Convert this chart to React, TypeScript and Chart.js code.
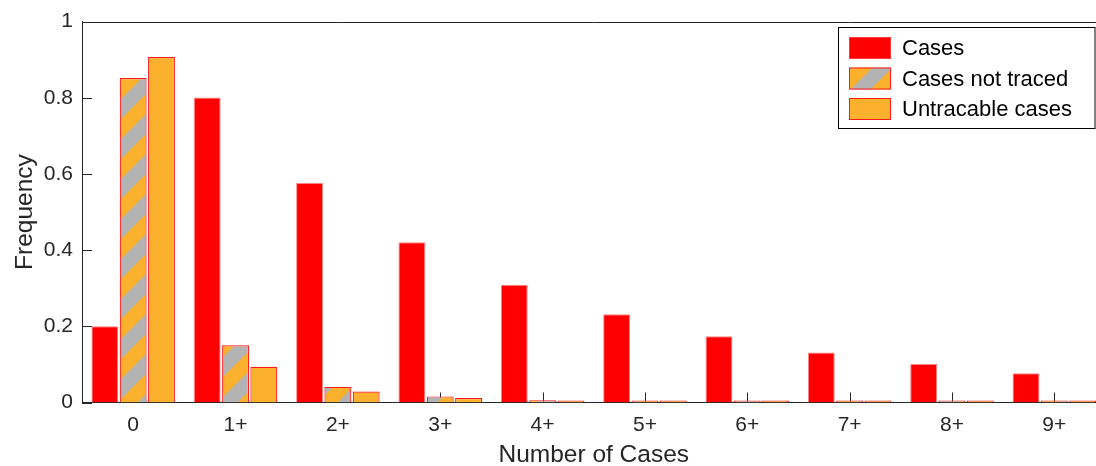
import React, { useEffect, useRef } from 'react';
import { Chart, registerables } from 'chart.js';

Chart.register(...registerables);

const categories = ['0', '1+', '2+', '3+', '4+', '5+', '6+', '7+', '8+', '9+'];
const casesValues = [0.2, 0.801, 0.576, 0.421, 0.309, 0.232, 0.174, 0.131, 0.101, 0.077];
const notTracedValues = [0.852, 0.15, 0.041, 0.016, 0.006, 0.003, 0.002, 0.001, 0.0006, 0.0004];
const untracableValues = [0.907, 0.094, 0.029, 0.012, 0.004, 0.002, 0.001, 0.0005, 0.0003, 0.0002];
const seriesNames = ['Cases', 'Cases not traced', 'Untracable cases'];
const yTickValues = [0, 0.2, 0.4, 0.6, 0.8, 1];
const yTickLabels = ['0', '0.2', '0.4', '0.6', '0.8', '1'];
const xTitle = 'Number of Cases';
const yTitle = 'Frequency';

const FONT = '"Liberation Sans", Arial, Helvetica, sans-serif';
const INK = '#262626';
const RED = '#ff0000';
const ORANGE = '#fbb12e';
const GRAY = '#b3b3b3';
const EDGE = '#ff1a1a';

function makeHatch(): CanvasPattern | string {
  const c = document.createElement('canvas');
  c.width = 40;
  c.height = 40;
  const g = c.getContext('2d');
  if (!g) return GRAY;
  g.fillStyle = GRAY;
  g.fillRect(0, 0, 40, 40);
  g.fillStyle = ORANGE;
  g.beginPath();
  g.moveTo(0, 0);
  g.lineTo(20, 0);
  g.lineTo(0, 20);
  g.closePath();
  g.fill();
  g.beginPath();
  g.moveTo(40, 0);
  g.lineTo(40, 20);
  g.lineTo(20, 40);
  g.lineTo(0, 40);
  g.closePath();
  g.fill();
  return g.createPattern(c, 'repeat') || GRAY;
}

export default function App() {
  const ref = useRef<HTMLCanvasElement | null>(null);

  useEffect(() => {
    if (!ref.current) return;
    const hatch = makeHatch();
    const fills: any[] = [RED, hatch, ORANGE];

    const framePlugin = {
      id: 'frame',
      beforeDatasetsDraw(chart: any) {
        const { ctx, chartArea: a, scales } = chart;
        ctx.save();
        ctx.strokeStyle = INK;
        ctx.lineWidth = 1;
        ctx.beginPath();
        yTickValues.forEach((v) => {
          const y = Math.round(scales.y.getPixelForValue(v)) + 0.5;
          ctx.moveTo(a.left, y);
          ctx.lineTo(a.left + 10, y);
        });
        categories.forEach((_, i) => {
          const x = Math.round(scales.x.getPixelForValue(i)) + 0.5;
          ctx.moveTo(x, a.bottom);
          ctx.lineTo(x, a.bottom - 10);
        });
        const ty = Math.round(a.top) + 0.5;
        ctx.moveTo(a.left, ty);
        ctx.lineTo(a.right, ty);
        ctx.stroke();
        ctx.restore();
      },
      afterDraw(chart: any) {
        const { ctx, chartArea: a } = chart;
        ctx.save();
        // axis titles
        ctx.fillStyle = INK;
        ctx.font = `24.5px ${FONT}`;
        ctx.textAlign = 'center';
        ctx.textBaseline = 'middle';
        ctx.fillText(xTitle, (a.left + a.right) / 2, 455);
        ctx.save();
        ctx.translate(25, (a.top + a.bottom) / 2);
        ctx.rotate(-Math.PI / 2);
        ctx.fillText(yTitle, 0, 0);
        ctx.restore();

        // legend
        ctx.fillStyle = '#ffffff';
        ctx.fillRect(838.5, 27.5, 256.5, 101);
        ctx.strokeStyle = '#000000';
        ctx.lineWidth = 1;
        ctx.strokeRect(838.5, 27.5, 256.5, 101);
        const rows = [48, 78.5, 109];
        chart.data.datasets.forEach((ds: any, i: number) => {
          const cy = rows[i];
          ctx.fillStyle = fills[i];
          ctx.fillRect(849, cy - 11, 42, 22);
          ctx.strokeStyle = i === 0 ? 'rgba(255,80,80,0.7)' : EDGE;
          ctx.strokeRect(849.5, cy - 10.5, 41, 21);
          ctx.fillStyle = '#000000';
          ctx.font = `22px ${FONT}`;
          ctx.textAlign = 'left';
          ctx.textBaseline = 'middle';
          ctx.fillText(ds.label, 902, cy + 1);
        });
        ctx.restore();
      },
    };

    const chart = new Chart(ref.current, {
      type: 'bar',
      data: {
        labels: categories,
        datasets: [
          {
            label: seriesNames[0],
            data: casesValues,
            backgroundColor: RED,
            borderColor: 'rgba(255,80,80,0.7)',
            borderWidth: 1,
            minBarLength: 2,
          },
          {
            label: seriesNames[1],
            data: notTracedValues,
            backgroundColor: hatch as any,
            borderColor: EDGE,
            borderWidth: 1.2,
            minBarLength: 2,
          },
          {
            label: seriesNames[2],
            data: untracableValues,
            backgroundColor: ORANGE,
            borderColor: EDGE,
            borderWidth: 1.2,
            minBarLength: 2,
          },
        ],
      },
      options: {
        animation: false,
        responsive: false,
        devicePixelRatio: 1,
        layout: { padding: { top: 21, right: 4.5, left: 0, bottom: 0 } },
        datasets: { bar: { categoryPercentage: 0.83, barPercentage: 0.95 } },
        plugins: { legend: { display: false }, tooltip: { enabled: false } },
        scales: {
          x: {
            type: 'category',
            offset: true,
            grid: { display: false, drawTicks: false },
            border: { display: true, color: INK, width: 1 },
            ticks: {
              color: INK,
              font: { family: FONT, size: 21 },
              padding: 10,
              maxRotation: 0,
              autoSkip: false,
            },
            afterFit: (s: any) => {
              s.height = 63.5;
            },
          },
          y: {
            min: 0,
            max: 1,
            grid: { display: false, drawTicks: false },
            border: { display: true, color: INK, width: 1 },
            ticks: {
              stepSize: 0.2,
              color: INK,
              font: { family: FONT, size: 21 },
              padding: 9,
              callback: (_v: any, i: number) => yTickLabels[i],
            },
            afterFit: (s: any) => {
              s.width = 82;
            },
          },
        },
      },
      plugins: [framePlugin],
    });
    return () => chart.destroy();
  }, []);

  return (
    <div
      style={{
        position: 'absolute',
        left: 0,
        top: 0,
        width: 1096,
        height: 466,
        overflow: 'hidden',
        background: '#ffffff',
      }}
    >
      <canvas ref={ref} width={1110} height={466} style={{ display: 'block' }} />
    </div>
  );
}
